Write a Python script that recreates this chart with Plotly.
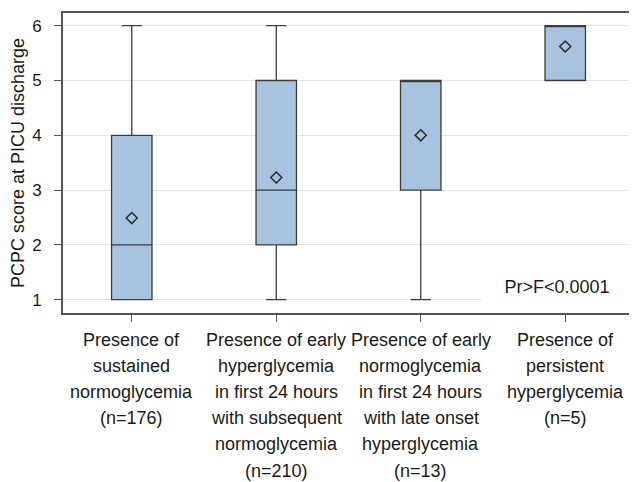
import plotly.graph_objects as go

# Data
group_lines = [
    ["Presence of", "sustained", "normoglycemia", "(n=176)"],
    ["Presence of early", "hyperglycemia", "in first 24 hours", "with subsequent", "normoglycemia", "(n=210)"],
    ["Presence of early", "normoglycemia", "in first 24 hours", "with late onset", "hyperglycemia", "(n=13)"],
    ["Presence of", "persistent", "hyperglycemia", "(n=5)"],
]
categories = [" ".join(l) for l in group_lines]
lower_fence = [1, 1, 1, 5]
q1 = [1, 2, 3, 5]
median = [2, 3, 5, 6]
q3 = [4, 5, 5, 6]
upper_fence = [6, 6, 5, 6]
means = [2.49, 3.23, 4.0, 5.62]
y_ticks = [1, 2, 3, 4, 5, 6]
y_title = "PCPC score at PICU discharge"
p_text = "Pr&gt;F&lt;0.0001"

FONT = "Liberation Sans, Arial, sans-serif"

fig = go.Figure()
fig.add_trace(go.Box(
    x=categories,
    q1=q1, median=median, q3=q3,
    lowerfence=lower_fence, upperfence=upper_fence,
    boxpoints=False,
    fillcolor="#a8c3df",
    line=dict(color="#3c3c3c", width=1.3),
    whiskerwidth=0.5,
    showlegend=False,
    hoverinfo="skip",
))
fig.add_trace(go.Scatter(
    x=categories, y=means, mode="markers",
    marker=dict(symbol="diamond-open", size=8.5, color="#2a2a2a", line=dict(width=1.5, color="#2a2a2a")),
    showlegend=False, hoverinfo="skip",
))

annotations = []
line_gap = 26.1
first_offset = 27.0
for cat, lines in zip(categories, group_lines):
    for i, txt in enumerate(lines):
        annotations.append(dict(
            x=cat, xref="x", y=0, yref="paper",
            yanchor="middle", xanchor="center",
            yshift=-(first_offset + line_gap * i),
            text=txt, showarrow=False,
            font=dict(family=FONT, size=18, color="#1a1a1a"),
        ))
annotations.append(dict(
    x=1, xref="paper", y=1.23, yref="y",
    xanchor="right", yanchor="middle", xshift=-1,
    width=146, height=34, align="center", valign="middle",
    text=p_text, showarrow=False, bgcolor="white", borderpad=2,
    font=dict(family=FONT, size=18, color="#1a1a1a"),
))

# The page body has an 8px margin, so the figure is sized to fit inside the window.
fig.update_layout(
    width=629, height=474,
    margin=dict(l=55, r=1, t=5, b=169),
    paper_bgcolor="white", plot_bgcolor="white",
    font=dict(family=FONT, size=16, color="#1a1a1a"),
    boxgap=0.6,
    annotations=annotations,
)
fig.update_xaxes(
    type="category", range=[-0.476, 3.476],
    showticklabels=False, ticks="outside", ticklen=7, tickcolor="#555555",
    showline=True, linecolor="#555555", linewidth=1.6, mirror=True,
    showgrid=False, zeroline=False,
)
fig.update_yaxes(
    range=[0.757, 6.232], tickvals=y_ticks,
    ticks="outside", ticklen=7, tickcolor="#555555", ticklabelstandoff=9,
    tickfont=dict(size=17),
    showline=True, linecolor="#555555", linewidth=1.6, mirror=True,
    showgrid=True, gridcolor="#e6e6e6", gridwidth=1, zeroline=False,
    title=dict(text=y_title, font=dict(size=18), standoff=3),
)

fig.write_html("out.html")
